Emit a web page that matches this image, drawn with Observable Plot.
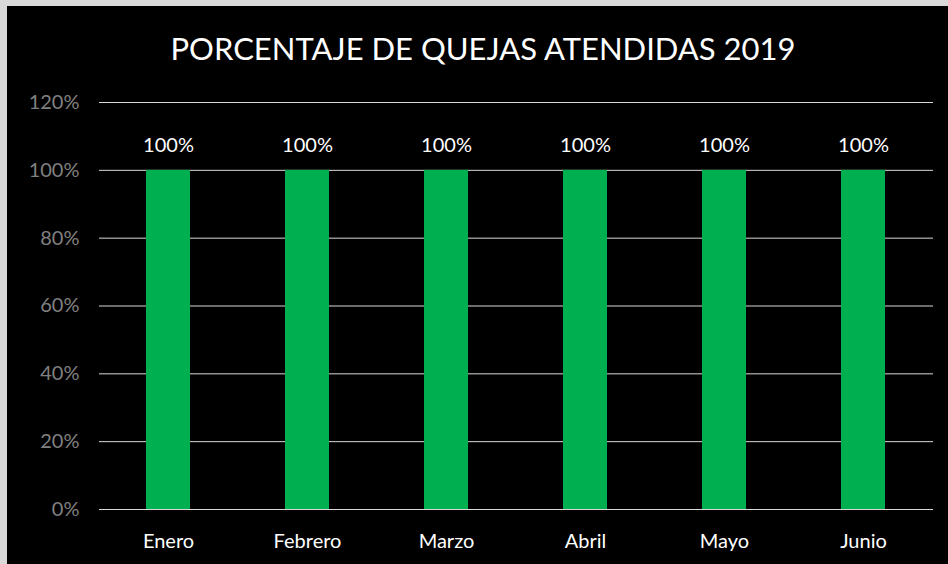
<!DOCTYPE html>
<html>
<head>
<meta charset="utf-8">
<script src="https://cdn.jsdelivr.net/npm/d3@7"></script>
<script src="https://cdn.jsdelivr.net/npm/@observablehq/plot@0.6"></script>
<style>
  html, body { margin: 0; padding: 0; background: #d9d9d9; width: 948px; height: 564px; overflow: hidden; }
  #frame { position: absolute; left: 7px; top: 6px; width: 941px; height: 558px; background: #000; }
  #title { height: 80px; box-sizing: border-box; padding-top: 27px; padding-left: 11px; text-align: center;
           font-family: Lato, sans-serif; font-size: 31px; line-height: 31px; color: #fff; white-space: nowrap; }
  svg { display: block; }
</style>
</head>
<body>
<div id="frame">
  <div id="title">PORCENTAJE DE QUEJAS ATENDIDAS 2019</div>
  <div id="chart"></div>
</div>
<script>
const months = ["Enero", "Febrero", "Marzo", "Abril", "Mayo", "Junio"];
const values = [1, 1, 1, 1, 1, 1];
const yTicks = [0, 0.2, 0.4, 0.6, 0.8, 1.0, 1.2];

const data = months.map((m, i) => ({month: m, value: values[i]}));
const pct = d3.format(".0%");

const chart = Plot.plot({
  width: 941,
  height: 478,
  marginTop: 16,
  marginBottom: 55,
  marginLeft: 92,
  marginRight: 15,
  style: {background: "#000", color: "#fff", fontFamily: "Lato, sans-serif", fontSize: "20px"},
  x: {domain: months, paddingInner: 0.68, paddingOuter: 0.34, label: null},
  y: {domain: [0, 1.2], label: null},
  marks: [
    Plot.gridY(yTicks, {stroke: "#d9d9d9", strokeOpacity: 1, strokeWidth: 1}),
    Plot.barY(data, {x: "month", y: "value", fill: "#00b050"}),
    Plot.text(data, {x: "month", y: "value", text: d => pct(d.value), dy: -18, lineAnchor: "bottom", fill: "#fff", fontSize: 20}),
    Plot.axisY({ticks: yTicks, tickFormat: pct, tickSize: 0, tickPadding: 20, fill: "#808080", fontSize: 20, label: null}),
    Plot.axisX({tickSize: 0, tickPadding: 24, fill: "#fff", fontSize: 20, label: null})
  ]
});
document.getElementById("chart").appendChild(chart);
</script>
</body>
</html>
